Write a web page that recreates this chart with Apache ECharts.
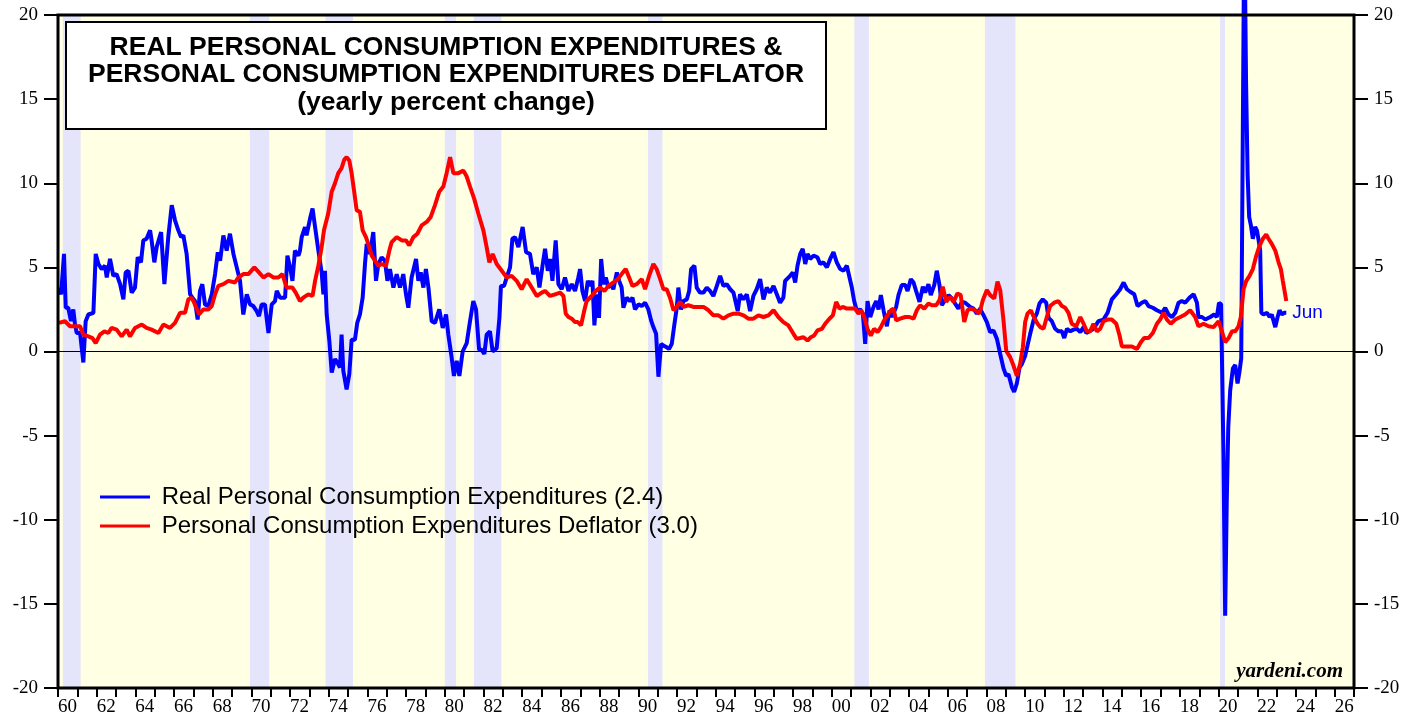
<!DOCTYPE html>
<html>
<head>
<meta charset="UTF-8">
<title>Real PCE & PCE Deflator</title>
<style>
  body{margin:0;padding:0;background:#fff;}
  #main{width:1419px;height:721px;}
</style>
</head>
<body>
<div id="main"></div>
<script src="https://cdn.jsdelivr.net/npm/echarts@6/dist/echarts.min.js"></script>
<script>
// real personal consumption expenditures, yearly % change
var realPce = [
  [1960.05,3.8],[1960.16,3.4],[1960.31,5.8],[1960.40,2.6],[1960.53,2.6],[1960.67,1.8],[1960.79,2.5],[1960.88,1.6],[1960.97,1.1],
  [1961.14,1.1],[1961.31,-0.65],[1961.43,1.8],[1961.57,2.2],[1961.83,2.3],[1961.95,5.8],[1962.09,5.2],[1962.26,4.9],[1962.43,5.1],
  [1962.52,4.4],[1962.69,5.5],[1962.86,4.5],[1963.03,4.6],[1963.21,4.0],[1963.38,3.1],[1963.50,4.7],[1963.64,4.8],[1963.81,3.5],
  [1963.98,3.8],[1964.12,5.6],[1964.29,5.3],[1964.41,6.6],[1964.58,6.7],[1964.76,7.2],[1964.84,6.6],[1964.98,5.3],[1965.10,6.2],
  [1965.33,7.1],[1965.50,4.0],[1965.70,6.8],[1965.88,8.7],[1966.05,7.8],[1966.22,7.2],[1966.36,6.8],[1966.48,6.9],[1966.65,5.8],
  [1966.74,4.6],[1966.83,3.4],[1966.95,3.2],[1967.08,3.0],[1967.22,1.9],[1967.34,3.6],[1967.46,4.0],[1967.60,2.8],[1967.77,2.7],
  [1967.95,3.4],[1968.12,4.6],[1968.26,5.9],[1968.38,5.4],[1968.55,6.9],[1968.72,6.0],[1968.89,7.0],[1969.07,5.8],[1969.24,5.0],
  [1969.41,4.2],[1969.58,2.2],[1969.76,3.4],[1969.93,2.8],[1970.10,2.7],[1970.27,2.4],[1970.39,2.1],[1970.53,2.8],[1970.70,2.8],
  [1970.88,1.1],[1971.05,2.8],[1971.22,3.0],[1971.31,3.6],[1971.48,3.2],[1971.74,3.2],[1971.86,5.7],[1972.00,5.0],[1972.12,4.2],
  [1972.25,6.0],[1972.43,5.7],[1972.51,6.0],[1972.60,6.8],[1972.77,7.4],[1972.85,6.9],[1973.03,7.9],[1973.16,8.5],[1973.29,7.4],
  [1973.46,6.0],[1973.63,4.7],[1973.72,3.4],[1973.80,4.8],[1973.89,2.2],[1974.03,0.6],[1974.15,-1.25],[1974.32,-0.45],[1974.44,-0.65],
  [1974.58,-0.95],[1974.66,1.0],[1974.75,-1.15],[1974.92,-2.25],[1975.06,-1.35],[1975.18,0.7],[1975.35,0.7],[1975.47,1.7],[1975.61,2.2],
  [1975.75,3.2],[1975.87,5.2],[1975.96,6.4],[1976.13,5.8],[1976.30,7.1],[1976.44,4.2],[1976.56,5.2],[1976.73,5.6],[1976.90,5.4],
  [1977.03,4.2],[1977.16,4.9],[1977.34,3.8],[1977.51,4.6],[1977.68,3.8],[1977.85,4.6],[1977.99,3.4],[1978.11,2.6],[1978.28,4.4],
  [1978.51,5.5],[1978.63,4.2],[1978.75,4.7],[1978.89,3.8],[1979.02,4.9],[1979.15,3.8],[1979.32,1.8],[1979.49,1.7],[1979.71,2.5],
  [1979.89,1.4],[1980.06,2.2],[1980.18,1.0],[1980.35,-0.35],[1980.47,-1.45],[1980.61,-0.55],[1980.75,-1.45],[1980.92,0.0],[1981.13,0.5],
  [1981.30,1.8],[1981.47,3.0],[1981.61,2.5],[1981.77,0.1],[1981.90,0.1],[1982.04,-0.15],[1982.16,1.0],[1982.33,1.2],[1982.47,0.0],
  [1982.68,0.2],[1982.82,2.0],[1982.90,3.9],[1983.06,3.9],[1983.20,4.4],[1983.37,5.0],[1983.49,6.7],[1983.63,6.8],[1983.80,6.2],
  [1984.02,7.4],[1984.20,5.9],[1984.40,5.8],[1984.57,4.6],[1984.75,5.0],[1984.89,3.8],[1985.06,5.2],[1985.18,6.1],[1985.32,4.8],
  [1985.44,5.5],[1985.56,4.2],[1985.73,6.6],[1985.87,4.0],[1986.04,3.7],[1986.21,4.4],[1986.39,3.6],[1986.56,4.0],[1986.73,3.6],
  [1986.90,4.4],[1986.99,4.9],[1987.11,3.6],[1987.25,3.0],[1987.39,4.2],[1987.51,3.9],[1987.63,4.2],[1987.73,1.55],[1987.85,3.4],
  [1987.97,2.0],[1988.08,5.5],[1988.20,4.0],[1988.32,4.4],[1988.45,3.8],[1988.59,4.0],[1988.71,3.7],[1988.89,4.7],[1989.01,4.2],
  [1989.14,3.8],[1989.23,2.6],[1989.40,3.2],[1989.57,3.0],[1989.70,3.2],[1989.83,2.5],[1990.01,2.8],[1990.18,2.7],[1990.35,2.9],
  [1990.52,2.5],[1990.66,1.85],[1990.78,1.45],[1990.92,1.05],[1991.04,-1.5],[1991.18,0.45],[1991.30,0.35],[1991.47,0.25],[1991.59,0.15],
  [1991.73,0.45],[1991.87,1.65],[1991.99,2.6],[1992.07,3.8],[1992.21,2.5],[1992.33,3.0],[1992.51,3.1],[1992.63,3.6],[1992.73,4.9],
  [1992.90,5.1],[1993.02,3.8],[1993.19,3.5],[1993.37,3.5],[1993.54,3.8],[1993.71,3.6],[1993.88,3.3],[1994.06,3.9],[1994.23,4.5],
  [1994.40,3.9],[1994.57,4.0],[1994.75,3.7],[1994.92,3.5],[1995.14,2.4],[1995.26,3.4],[1995.43,3.1],[1995.61,3.4],[1995.78,2.4],
  [1995.95,3.3],[1996.12,3.7],[1996.30,4.3],[1996.47,3.1],[1996.64,3.8],[1996.81,3.5],[1996.99,3.9],[1997.16,3.4],[1997.33,2.9],
  [1997.50,3.2],[1997.59,4.2],[1997.85,4.5],[1997.99,4.7],[1998.11,4.1],[1998.23,5.1],[1998.37,5.8],[1998.50,6.1],[1998.63,5.2],
  [1998.75,5.8],[1998.88,5.5],[1999.06,5.7],[1999.26,5.6],[1999.40,5.2],[1999.57,5.3],[1999.75,5.0],[1999.92,5.5],[2000.09,5.9],
  [2000.26,5.3],[2000.44,4.9],[2000.61,4.8],[2000.78,5.1],[2000.92,4.4],[2001.04,3.8],[2001.16,3.0],[2001.30,2.4],[2001.47,2.5],
  [2001.61,2.25],[2001.73,0.45],[2001.85,3.0],[2001.99,2.05],[2002.16,2.65],[2002.30,3.0],[2002.42,2.5],[2002.54,3.35],[2002.68,2.45],
  [2002.85,1.5],[2002.99,2.45],[2003.11,2.05],[2003.33,2.65],[2003.45,3.35],[2003.62,3.95],[2003.80,3.95],[2003.92,3.6],[2004.09,4.3],
  [2004.23,4.1],[2004.36,3.6],[2004.54,2.95],[2004.71,3.85],[2004.83,3.5],[2005.00,4.0],[2005.12,3.35],[2005.30,3.95],[2005.43,4.8],
  [2005.57,3.95],[2005.69,2.75],[2005.86,3.05],[2006.04,3.35],[2006.21,3.15],[2006.38,2.85],[2006.55,2.55],[2006.73,2.95],[2006.90,2.9],
  [2007.16,2.65],[2007.33,2.55],[2007.50,2.25],[2007.67,2.55],[2007.85,2.15],[2008.02,1.75],[2008.19,1.15],[2008.36,1.25],[2008.54,0.75],
  [2008.71,-0.15],[2008.88,-1.0],[2009.02,-1.45],[2009.14,-1.35],[2009.31,-2.1],[2009.43,-2.4],[2009.57,-1.9],[2009.71,-0.95],[2009.83,-0.75],
  [2010.00,-0.25],[2010.12,0.35],[2010.26,1.05],[2010.43,1.85],[2010.60,2.25],[2010.74,2.85],[2010.91,3.1],[2011.09,2.9],[2011.21,2.0],
  [2011.38,1.8],[2011.55,1.35],[2011.72,1.2],[2011.90,1.2],[2012.02,0.8],[2012.16,1.35],[2012.33,1.2],[2012.50,1.3],[2012.67,1.35],
  [2012.85,1.15],[2013.02,1.45],[2013.16,1.1],[2013.33,1.2],[2013.53,1.35],[2013.79,1.8],[2014.05,1.9],[2014.26,2.3],[2014.48,3.1],
  [2014.71,3.4],[2014.91,3.7],[2015.09,4.1],[2015.26,3.7],[2015.43,3.55],[2015.64,3.4],[2015.81,2.7],[2016.03,2.9],[2016.21,3.0],
  [2016.38,2.7],[2016.60,2.6],[2016.81,2.45],[2017.07,2.3],[2017.24,2.6],[2017.41,2.2],[2017.59,2.05],[2017.76,2.3],[2017.93,2.9],
  [2018.10,3.0],[2018.27,2.9],[2018.50,3.2],[2018.71,3.4],[2018.88,2.9],[2018.96,2.05],[2019.14,2.05],[2019.31,1.9],[2019.57,2.05],
  [2019.77,2.2],[2019.91,2.05],[2020.02,2.9],[2020.13,2.8],[2020.25,-6.0],[2020.34,-15.7],[2020.42,-9.0],[2020.50,-4.5],[2020.60,-2.3],
  [2020.74,-1.0],[2020.86,-0.8],[2020.98,-1.9],[2021.08,-1.2],[2021.17,-0.4],[2021.33,26.0],[2021.42,16.0],[2021.50,10.5],[2021.58,8.0],
  [2021.67,7.5],[2021.77,6.7],[2021.89,7.4],[2021.98,7.2],[2022.07,6.6],[2022.15,6.0],[2022.21,2.3],[2022.32,2.2],[2022.50,2.3],
  [2022.64,2.05],[2022.75,2.2],[2022.93,1.45],[2023.05,2.05],[2023.15,2.45],[2023.27,2.2],[2023.39,2.3],[2023.50,2.3]
];

// personal consumption expenditures deflator, yearly % change
var pceDeflator = [
  [1960.05,1.7],[1960.36,1.8],[1960.62,1.5],[1960.88,1.5],[1961.14,1.5],[1961.31,1.0],[1961.57,0.9],[1961.78,0.8],[1961.95,0.5],
  [1962.17,1.0],[1962.40,1.2],[1962.60,1.1],[1962.77,1.4],[1963.03,1.3],[1963.29,0.9],[1963.55,1.3],[1963.72,0.9],[1963.98,1.4],
  [1964.33,1.6],[1964.58,1.4],[1964.84,1.3],[1965.19,1.1],[1965.45,1.6],[1965.79,1.4],[1966.05,1.7],[1966.31,2.3],[1966.57,2.3],
  [1966.74,3.1],[1966.91,3.2],[1967.08,2.8],[1967.29,2.2],[1967.51,2.5],[1967.77,2.5],[1967.95,2.7],[1968.12,3.4],[1968.29,3.9],
  [1968.55,4.0],[1968.81,4.2],[1969.15,4.1],[1969.32,4.4],[1969.58,4.6],[1969.84,4.6],[1970.15,5.0],[1970.39,4.7],[1970.62,4.4],
  [1970.88,4.6],[1971.13,4.4],[1971.39,4.4],[1971.60,4.6],[1971.82,3.8],[1972.12,3.8],[1972.29,3.5],[1972.51,3.0],[1972.68,3.2],
  [1972.94,3.4],[1973.16,3.3],[1973.29,4.2],[1973.46,5.1],[1973.63,6.2],[1973.75,7.2],[1973.97,8.2],[1974.15,9.5],[1974.32,10.0],
  [1974.49,10.6],[1974.66,10.9],[1974.80,11.4],[1974.92,11.55],[1975.06,11.35],[1975.18,10.6],[1975.30,9.6],[1975.44,8.4],[1975.61,8.3],
  [1975.75,7.2],[1975.92,6.8],[1976.04,6.4],[1976.22,5.7],[1976.39,5.4],[1976.56,5.1],[1976.73,5.2],[1976.96,5.1],[1977.13,6.0],
  [1977.25,6.5],[1977.51,6.8],[1977.77,6.6],[1977.99,6.6],[1978.16,6.3],[1978.37,6.8],[1978.58,7.0],[1978.80,7.5],[1979.06,7.7],
  [1979.27,8.0],[1979.49,8.7],[1979.71,9.5],[1979.92,9.8],[1980.09,10.6],[1980.27,11.55],[1980.44,10.6],[1980.70,10.6],[1980.96,10.75],
  [1981.13,10.4],[1981.30,9.8],[1981.51,9.1],[1981.73,8.2],[1981.99,7.2],[1982.16,6.2],[1982.30,5.3],[1982.47,5.8],[1982.68,5.2],
  [1982.94,4.8],[1983.20,4.4],[1983.45,4.5],[1983.71,4.2],[1983.97,3.7],[1984.23,4.3],[1984.49,3.8],[1984.75,3.3],[1985.01,3.5],
  [1985.18,3.6],[1985.44,3.3],[1985.70,3.4],[1985.96,3.5],[1986.13,3.3],[1986.25,2.25],[1986.39,2.05],[1986.56,1.95],[1986.73,1.75],
  [1986.87,1.75],[1987.04,1.55],[1987.21,2.45],[1987.33,3.0],[1987.59,3.3],[1987.80,3.6],[1988.02,3.8],[1988.25,3.6],[1988.45,3.9],
  [1988.71,4.1],[1988.94,4.3],[1989.14,4.6],[1989.35,4.9],[1989.49,4.5],[1989.70,3.9],[1989.92,4.0],[1990.18,4.3],[1990.35,3.7],
  [1990.56,4.5],[1990.78,5.2],[1990.95,4.9],[1991.13,4.3],[1991.30,3.7],[1991.47,3.7],[1991.64,3.2],[1991.82,2.45],[1991.99,2.65],
  [1992.16,2.95],[1992.33,2.65],[1992.59,2.75],[1992.85,2.65],[1993.11,2.65],[1993.37,2.65],[1993.63,2.45],[1993.88,2.15],[1994.14,2.15],
  [1994.40,1.95],[1994.66,2.15],[1994.92,2.25],[1995.18,2.25],[1995.44,2.15],[1995.69,1.95],[1995.95,1.95],[1996.21,2.15],[1996.47,2.05],
  [1996.73,2.15],[1996.99,2.45],[1997.24,2.05],[1997.50,1.75],[1997.76,1.55],[1997.85,1.45],[1998.02,1.05],[1998.19,0.75],[1998.37,0.8],
  [1998.54,0.85],[1998.75,0.65],[1998.92,0.85],[1999.09,0.95],[1999.26,1.25],[1999.49,1.35],[1999.66,1.65],[1999.88,1.95],[2000.06,2.15],
  [2000.23,2.95],[2000.40,2.55],[2000.57,2.65],[2000.78,2.55],[2000.99,2.55],[2001.21,2.55],[2001.38,2.25],[2001.52,2.45],[2001.68,2.05],
  [2001.85,1.35],[2002.02,0.95],[2002.19,1.35],[2002.37,1.15],[2002.54,1.45],[2002.71,1.85],[2002.88,2.15],[2003.06,2.45],[2003.19,2.55],
  [2003.33,1.85],[2003.54,1.95],[2003.80,2.05],[2004.02,2.05],[2004.23,1.95],[2004.40,2.45],[2004.57,2.75],[2004.78,2.55],[2005.00,2.85],
  [2005.18,2.75],[2005.40,2.75],[2005.57,3.05],[2005.74,3.85],[2005.92,2.95],[2006.12,3.25],[2006.30,2.95],[2006.50,3.45],[2006.67,3.35],
  [2006.85,1.75],[2007.02,2.45],[2007.19,2.55],[2007.42,2.45],[2007.64,2.25],[2007.81,3.05],[2008.02,3.65],[2008.19,3.35],[2008.40,3.15],
  [2008.57,4.15],[2008.71,3.65],[2008.88,1.85],[2009.02,0.05],[2009.23,-0.35],[2009.40,-0.85],[2009.57,-1.45],[2009.74,-0.75],[2009.88,0.25],
  [2010.00,1.75],[2010.12,2.25],[2010.29,2.45],[2010.47,2.0],[2010.64,1.65],[2010.78,1.45],[2010.95,1.35],[2011.12,2.05],[2011.29,2.7],
  [2011.50,2.9],[2011.72,3.0],[2011.90,2.7],[2012.07,2.6],[2012.24,2.3],[2012.41,1.65],[2012.64,1.5],[2012.85,2.05],[2013.02,1.65],
  [2013.19,1.2],[2013.36,1.2],[2013.53,1.65],[2013.71,1.2],[2013.88,1.35],[2014.05,1.8],[2014.26,1.9],[2014.48,1.9],[2014.71,1.65],
  [2014.88,0.95],[2015.00,0.3],[2015.26,0.3],[2015.52,0.3],[2015.78,0.15],[2015.98,0.55],[2016.15,0.8],[2016.38,0.8],[2016.60,1.1],
  [2016.81,1.65],[2016.98,1.9],[2017.15,2.3],[2017.33,1.9],[2017.53,1.65],[2017.76,1.9],[2018.02,2.05],[2018.27,2.2],[2018.53,2.45],
  [2018.79,2.05],[2018.96,1.5],[2019.22,1.65],[2019.48,1.5],[2019.74,1.45],[2020.00,1.8],[2020.17,1.2],[2020.34,0.55],[2020.52,0.8],
  [2020.69,1.2],[2020.86,1.2],[2021.03,1.5],[2021.15,2.05],[2021.29,3.7],[2021.43,4.2],[2021.60,4.5],[2021.77,4.9],[2021.95,5.7],
  [2022.12,6.3],[2022.29,6.7],[2022.46,6.95],[2022.58,6.7],[2022.75,6.4],[2022.93,6.0],[2023.10,5.3],[2023.22,4.9],[2023.32,4.2],
  [2023.50,3.0]
];

// recessions (start, end) in decimal years
var recessions = [
  [1960.25,1961.17],[1969.92,1970.92],[1973.83,1975.25],[1980.0,1980.58],[1981.5,1982.92],
  [1990.5,1991.25],[2001.17,2001.92],[2007.92,2009.5],[2020.08,2020.33]
];

var titleLines = [
  'REAL PERSONAL CONSUMPTION EXPENDITURES &',
  'PERSONAL CONSUMPTION EXPENDITURES DEFLATOR',
  '(yearly percent change)'
];
var seriesNames = [
  'Real Personal Consumption Expenditures (2.4)',
  'Personal Consumption Expenditures Deflator (3.0)'
];

var serif = '"Liberation Serif", "DejaVu Serif", serif';
var sans = '"Liberation Sans", Arial, sans-serif';

var bands = recessions.map(function (r) {
  return [{ xAxis: r[0], yAxis: -20 }, { xAxis: r[1], yAxis: 20 }];
});

var yAxisBase = {
  type: 'value', min: -20, max: 20, interval: 5,
  splitLine: { show: false },
  axisLine: { show: false },
  axisTick: { show: true, inside: false, length: 14, lineStyle: { color: '#000', width: 2 } },
  axisLabel: { color: '#000', fontFamily: serif, fontSize: 19, margin: 20 }
};

var chart = echarts.init(document.getElementById('main'));
chart.setOption({
  animation: false,
  backgroundColor: '#fff',
  grid: { left: 58, right: 65, top: 15, bottom: 33, show: true, backgroundColor: '#FFFFE3', borderWidth: 0 },
  xAxis: {
    type: 'value', min: 1960, max: 2027, interval: 1,
    splitLine: { show: false },
    axisLine: { show: false, onZero: false },
    axisTick: { show: true, length: 9, lineStyle: { color: '#000', width: 2 } },
    axisLabel: {
      color: '#000', fontFamily: serif, fontSize: 19, margin: 10, align: 'left',
      formatter: function (v) {
        var y = Math.round(v);
        return (y % 2 === 0 && y < 2027) ? String(y).slice(2) : '';
      }
    }
  },
  yAxis: [
    Object.assign({ position: 'left' }, yAxisBase),
    Object.assign({ position: 'right' }, yAxisBase)
  ],
  legend: {
    orient: 'vertical', left: 95, top: 480,
    itemWidth: 50, itemHeight: 3, itemGap: 5, icon: 'rect',
    formatter: ' {name}',
    textStyle: { color: '#000', fontFamily: sans, fontSize: 24 },
    data: seriesNames
  },
  series: [
    {
      type: 'line', name: 'bands', data: [], z: 1, silent: true,
      markArea: { silent: true, itemStyle: { color: '#E4E4FA' }, data: bands },
      markLine: {
        silent: true, symbol: 'none', label: { show: false },
        lineStyle: { color: '#000', width: 1, type: 'solid' },
        data: [{ yAxis: 0 }]
      }
    },
    {
      type: 'line', name: seriesNames[0], data: realPce, z: 3,
      showSymbol: false, clip: false,
      lineStyle: { color: '#0000FF', width: 4 }, itemStyle: { color: '#0000FF' },
      endLabel: { show: true, formatter: 'Jun', color: '#0000FF', fontFamily: sans, fontSize: 19, distance: 6 }
    },
    {
      type: 'line', name: seriesNames[1], data: pceDeflator, z: 4,
      showSymbol: false,
      lineStyle: { color: '#FF0000', width: 4 }, itemStyle: { color: '#FF0000' }
    }
  ],
  graphic: [
    { type: 'rect', z: 50, silent: true, shape: { x: 58, y: 15, width: 1296, height: 673 },
      style: { fill: null, stroke: '#000', lineWidth: 3 } },
    { type: 'rect', z: 60, shape: { x: 66, y: 22, width: 760, height: 107 },
      style: { fill: '#fff', stroke: '#000', lineWidth: 2 } },
    { type: 'text', z: 61, x: 446, y: 48,
      style: { text: titleLines[0], font: 'bold 26.5px ' + sans, fill: '#000', textAlign: 'center', textVerticalAlign: 'middle' } },
    { type: 'text', z: 61, x: 446, y: 75,
      style: { text: titleLines[1], font: 'bold 26.5px ' + sans, fill: '#000', textAlign: 'center', textVerticalAlign: 'middle' } },
    { type: 'text', z: 61, x: 446, y: 103,
      style: { text: titleLines[2], font: 'bold 26.5px ' + sans, fill: '#000', textAlign: 'center', textVerticalAlign: 'middle' } },
    { type: 'text', z: 61, x: 1343, y: 672,
      style: { text: 'yardeni.com', font: 'italic bold 21px ' + serif, fill: '#000', textAlign: 'right', textVerticalAlign: 'middle' } }
  ]
});
</script>
</body>
</html>
